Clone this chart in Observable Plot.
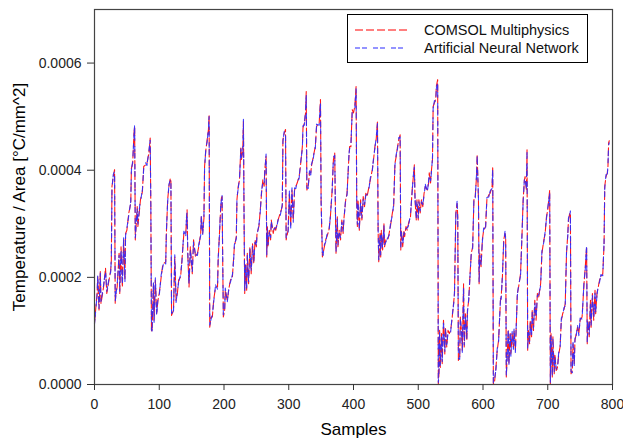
<!DOCTYPE html>
<html><head><meta charset="utf-8">
<script src="https://cdn.jsdelivr.net/npm/d3@7"></script>
<script src="https://cdn.jsdelivr.net/npm/@observablehq/plot@0.6"></script>
<style>
body{margin:0;background:#fff;}
#wrap{position:relative;width:623px;height:440px;font-family:"Liberation Sans",Arial,sans-serif;}
#legend{position:absolute;left:347px;top:14px;width:239px;height:47px;border:1px solid #000;background:#fff;}
</style></head><body><div id="wrap"></div>
<script>
// sample index (x)
const samples = [
0,4,5,7,9,10,14,17,19,22,25,26,27,29,31,32,33,35,38,39,
41,43,45,47,48,50,53,56,57,59,61,62,63,66,67,70,71,74,76,79,
81,84,86,87,88,89,91,92,94,96,98,100,103,105,107,110,111,113,115,117,
118,119,122,124,126,128,130,133,135,138,141,142,143,144,146,148,151,153,156,159,
161,164,165,167,169,170,172,174,176,177,178,180,182,184,187,190,191,193,195,196,
197,198,199,201,202,205,208,210,213,215,216,219,220,222,224,226,227,229,230,231,
232,233,235,236,238,240,242,244,246,248,250,251,254,256,258,260,262,263,265,266,
267,268,270,272,273,276,278,280,282,285,287,290,291,293,295,296,299,301,303,305,
307,309,311,313,316,318,321,322,324,326,327,328,330,332,334,335,338,340,341,343,
347,349,350,352,353,355,357,359,362,364,367,369,371,372,373,375,376,378,380,382,
384,385,388,390,393,394,396,398,400,402,404,405,406,407,409,411,413,415,417,419,
421,424,426,429,431,433,435,437,438,439,441,442,443,445,447,448,450,453,455,457,
460,462,464,466,468,470,472,473,474,476,478,479,481,483,485,488,491,492,494,495,
497,498,500,501,503,505,507,509,511,514,516,517,519,520,522,523,525,527,528,530,
531,532,533,534,536,537,539,541,542,544,546,548,550,552,555,556,558,560,561,562,
564,565,567,568,570,571,573,575,576,578,580,582,584,586,588,590,591,593,594,595,
597,599,601,604,606,609,611,614,615,616,618,620,622,624,627,628,630,632,634,635,
636,637,639,640,642,643,645,647,648,650,651,653,655,658,660,662,664,665,667,668,
669,670,672,673,675,676,678,680,682,684,686,689,691,694,696,698,700,702,703,704,
705,707,708,710,711,713,715,717,719,721,723,725,727,729,731,732,734,735,736,738,
739,741,742,744,746,748,750,753,756,758,760,761,762,764,766,767,769,771,773,774,
776,778,780,782,785,787,788,790,792,793,794,795];

// COMSOL Multiphysics, Temperature/Area in units of 1e-4 °C/mm^2
const comsol = [
1.15,1.70,2.01,1.39,2.12,1.51,1.82,2.17,1.70,1.92,2.13,2.32,3.70,3.88,4.01,1.51,1.70,1.82,2.45,1.70,
2.57,1.82,2.70,1.95,2.82,2.88,3.20,3.38,4.04,4.13,4.69,4.82,2.70,3.32,2.95,3.32,3.45,3.60,4.07,4.10,
4.13,4.32,4.60,3.32,0.98,1.04,1.88,1.20,1.95,1.32,1.57,1.70,2.01,2.20,2.26,2.29,2.82,3.45,3.70,3.85,
3.79,1.29,1.39,2.38,1.57,1.70,1.95,2.01,2.32,2.82,2.82,3.07,3.26,2.45,1.82,2.57,2.07,2.70,2.38,2.45,
2.57,2.82,3.13,2.82,3.10,4.07,4.38,4.57,4.76,5.04,1.07,1.26,1.26,1.57,1.82,1.82,2.32,2.82,3.32,3.48,
3.51,2.32,1.26,1.39,1.76,1.57,1.82,1.95,2.01,2.38,2.57,2.76,3.45,3.70,3.82,4.44,4.20,4.38,4.91,3.07,
1.70,2.26,1.76,2.45,1.88,2.57,2.07,2.63,2.26,2.70,2.57,2.82,2.95,3.26,3.57,3.82,3.70,4.01,4.26,2.38,
2.95,2.57,2.88,2.70,3.07,2.82,2.95,2.88,3.01,3.13,3.20,3.32,4.57,4.69,4.76,2.70,2.88,3.57,2.95,3.63,
3.07,3.63,3.70,3.76,3.88,4.07,4.44,4.79,4.88,5.07,5.47,3.63,3.70,3.95,3.95,4.07,4.26,4.38,4.44,4.82,
4.88,5.32,3.38,2.38,2.45,2.57,2.70,2.76,2.88,3.07,3.63,4.20,4.32,3.32,2.45,3.13,2.57,2.88,2.70,3.07,
2.82,3.07,3.45,3.57,4.26,4.44,4.44,5.13,5.07,5.19,5.56,3.38,2.95,3.45,2.88,3.45,3.07,3.51,3.32,3.57,
3.51,3.70,3.82,4.01,4.20,4.44,4.57,4.91,2.88,2.29,2.82,2.38,2.88,2.51,3.01,2.57,2.70,2.70,2.82,2.95,
3.20,3.32,4.13,4.26,4.44,4.57,4.66,2.51,2.88,2.57,2.88,2.76,2.95,2.88,3.01,3.13,3.70,3.82,4.10,3.45,
3.07,3.45,3.07,3.45,3.20,3.45,3.32,3.57,3.70,3.63,3.76,3.95,3.76,3.95,4.20,5.19,5.26,5.32,5.57,5.69,
0.00,0.20,1.01,0.32,0.95,0.39,1.20,0.57,1.07,0.70,1.01,0.95,1.01,1.20,1.57,1.70,3.20,3.38,3.13,0.45,
0.51,1.26,0.95,0.64,1.88,0.70,1.32,0.82,1.39,1.57,2.07,2.45,2.57,3.45,3.51,3.88,4.29,3.45,1.88,2.45,
2.20,2.70,2.88,2.95,3.45,3.54,3.57,3.70,4.07,0.00,0.07,0.32,0.64,0.82,1.57,1.63,2.01,2.70,2.82,2.76,
0.14,0.45,1.01,0.39,0.95,0.57,0.95,0.70,1.01,0.64,0.95,1.70,1.82,2.07,2.70,3.45,3.82,3.88,3.63,4.38,
0.64,1.01,0.76,1.20,0.89,1.39,1.01,1.57,1.20,1.70,1.63,1.88,2.45,2.70,2.82,3.13,3.26,3.51,3.63,0.00,
0.95,0.14,0.89,0.20,0.57,0.26,0.32,0.57,0.70,1.20,1.32,1.39,1.51,2.45,2.82,3.07,3.20,3.20,0.20,0.26,
0.76,0.39,0.82,0.95,1.07,0.95,1.20,1.26,1.88,2.20,2.57,0.76,1.20,0.89,1.57,1.07,1.70,1.20,1.76,1.32,
1.70,1.82,1.95,2.01,2.07,2.63,3.70,3.88,3.95,4.07,4.51,4.55];

// Artificial Neural Network, same units
const ann = [
1.13,1.66,2.05,1.42,2.08,1.55,1.85,2.12,1.74,1.95,2.10,2.36,3.66,3.92,3.98,1.55,1.66,1.86,2.41,1.74,
2.53,1.86,2.74,1.91,2.78,2.92,3.16,3.42,4.00,4.17,4.65,4.86,2.74,3.28,2.99,3.36,3.41,3.64,4.03,4.14,
4.09,4.36,4.56,3.36,1.02,1.00,1.92,1.16,1.99,1.28,1.61,1.66,2.05,2.16,2.30,2.25,2.86,3.41,3.74,3.81,
3.83,1.33,1.35,2.42,1.53,1.74,1.91,2.05,2.28,2.86,2.78,3.11,3.22,2.49,1.86,2.53,2.11,2.66,2.42,2.41,
2.61,2.78,3.17,2.78,3.14,4.03,4.42,4.53,4.80,5.00,1.11,1.22,1.30,1.53,1.86,1.78,2.36,2.78,3.36,3.44,
3.55,2.36,1.30,1.35,1.80,1.53,1.86,1.91,2.05,2.34,2.61,2.72,3.49,3.66,3.86,4.40,4.24,4.34,4.95,3.11,
1.74,2.22,1.80,2.41,1.92,2.53,2.11,2.59,2.30,2.66,2.61,2.78,2.99,3.22,3.61,3.78,3.74,3.97,4.30,2.42,
2.91,2.61,2.84,2.74,3.03,2.86,2.91,2.92,2.97,3.17,3.16,3.36,4.53,4.73,4.72,2.74,2.84,3.61,2.91,3.67,
3.03,3.67,3.66,3.80,3.84,4.11,4.40,4.83,4.84,5.11,5.43,3.67,3.66,3.99,3.91,4.11,4.22,4.42,4.40,4.86,
4.84,5.28,3.42,2.42,2.41,2.61,2.66,2.80,2.84,3.11,3.59,4.24,4.28,3.36,2.49,3.09,2.61,2.84,2.74,3.03,
2.86,3.03,3.49,3.53,4.30,4.40,4.48,5.09,5.11,5.15,5.52,3.42,2.99,3.41,2.92,3.41,3.11,3.47,3.36,3.53,
3.55,3.66,3.86,3.97,4.24,4.40,4.61,4.87,2.92,2.33,2.78,2.42,2.84,2.55,2.97,2.61,2.66,2.74,2.78,2.99,
3.16,3.36,4.09,4.30,4.40,4.61,4.62,2.55,2.84,2.61,2.84,2.80,2.91,2.92,2.97,3.17,3.66,3.86,4.06,3.49,
3.11,3.41,3.11,3.41,3.24,3.41,3.36,3.53,3.74,3.59,3.80,3.91,3.80,3.91,4.24,5.15,5.30,5.28,5.53,5.65,
0.04,0.24,0.97,0.36,0.91,0.43,1.16,0.61,1.03,0.74,0.97,0.99,0.97,1.24,1.53,1.74,3.16,3.42,3.09,0.49,
0.47,1.22,0.99,0.60,1.84,0.74,1.28,0.86,1.35,1.61,2.03,2.49,2.53,3.49,3.47,3.92,4.25,3.49,1.92,2.41,
2.24,2.66,2.92,2.91,3.49,3.50,3.61,3.66,4.03,0.03,0.11,0.28,0.68,0.78,1.61,1.59,2.05,2.66,2.86,2.72,
0.18,0.41,1.05,0.35,0.99,0.53,0.99,0.66,1.05,0.60,0.99,1.66,1.86,2.03,2.74,3.41,3.86,3.84,3.67,4.34,
0.68,0.97,0.80,1.16,0.93,1.35,1.05,1.53,1.24,1.66,1.67,1.84,2.49,2.66,2.86,3.09,3.30,3.47,3.59,0.04,
0.91,0.18,0.85,0.24,0.53,0.30,0.28,0.61,0.66,1.24,1.28,1.43,1.47,2.49,2.78,3.11,3.16,3.24,0.24,0.22,
0.80,0.35,0.86,0.91,1.11,0.91,1.24,1.22,1.92,2.16,2.61,0.80,1.16,0.93,1.53,1.11,1.66,1.24,1.72,1.36,
1.66,1.86,1.91,2.05,2.03,2.67,3.66,3.92,3.91,4.11,4.47,4.51];

const xTicks = [0, 100, 200, 300, 400, 500, 600, 700, 800];
const yTicks = [0, 0.0002, 0.0004, 0.0006];
const seriesNames = ["COMSOL Multiphysics", "Artificial Neural Network"];
const seriesColors = ["#ff0000", "#2b2bff"];
const seriesDash = ["8,3", "5,2,5,6"];

const n = Math.min(samples.length, comsol.length, ann.length);
const comsolRows = [], annRows = [];
for (let i = 0; i < n; i++) {
  comsolRows.push({s: samples[i], v: comsol[i] * 1e-4});
  annRows.push({s: samples[i], v: ann[i] * 1e-4});
}

const chart = Plot.plot({
  width: 623, height: 440,
  marginLeft: 94, marginRight: 11, marginTop: 9, marginBottom: 56,
  style: {fontFamily: "'Liberation Sans', Arial, sans-serif", fontSize: "14px", color: "#222", background: "#fff", overflow: "visible"},
  x: {domain: [0, 800]},
  y: {domain: [0, 0.0007]},
  marks: [
    Plot.lineY(comsolRows, {x: "s", y: "v", stroke: seriesColors[0], strokeWidth: 1.1, strokeDasharray: seriesDash[0], strokeOpacity: 0.9}),
    Plot.lineY(annRows, {x: "s", y: "v", stroke: seriesColors[1], strokeWidth: 1.1, strokeDasharray: seriesDash[1], strokeOpacity: 0.9}),
    Plot.frame({stroke: "#444", strokeWidth: 1.2}),
    Plot.axisX({ticks: xTicks, tickSize: 6, tickPadding: 9, fontSize: 14, stroke: "#333", label: "Samples", labelAnchor: "center", labelArrow: "none", labelOffset: 50}),
    Plot.axisY({ticks: yTicks, tickFormat: d => d.toFixed(4), tickSize: 7, tickPadding: 6, fontSize: 14, stroke: "#333", label: "Temperature / Area [°C/mm^2]", labelAnchor: "center", labelArrow: "none", labelOffset: 82})
  ]
});
document.getElementById("wrap").appendChild(chart);
d3.select(chart).selectAll('g[aria-label="x-axis label"] text, g[aria-label="y-axis label"] text')
  .style("font-size", "17px").attr("fill", "#000");
d3.select(chart).selectAll('g[aria-label="x-axis tick label"] text, g[aria-label="y-axis tick label"] text')
  .attr("fill", "#222");

// legend
const lg = d3.select("#wrap").append("div").attr("id", "legend");
const ls = lg.append("svg").attr("width", 239).attr("height", 47);
seriesNames.forEach((name, i) => {
  const y = 15 + i * 18;
  ls.append("line").attr("x1", 7).attr("x2", 61).attr("y1", y).attr("y2", y)
    .attr("stroke", seriesColors[i]).attr("stroke-width", 1.2).attr("stroke-dasharray", seriesDash[i]);
  ls.append("text").attr("x", 76).attr("y", y + 5).text(name)
    .attr("font-size", 14.5).attr("font-family", "'Liberation Sans', Arial, sans-serif").attr("fill", "#111");
});
</script>
</body></html>
